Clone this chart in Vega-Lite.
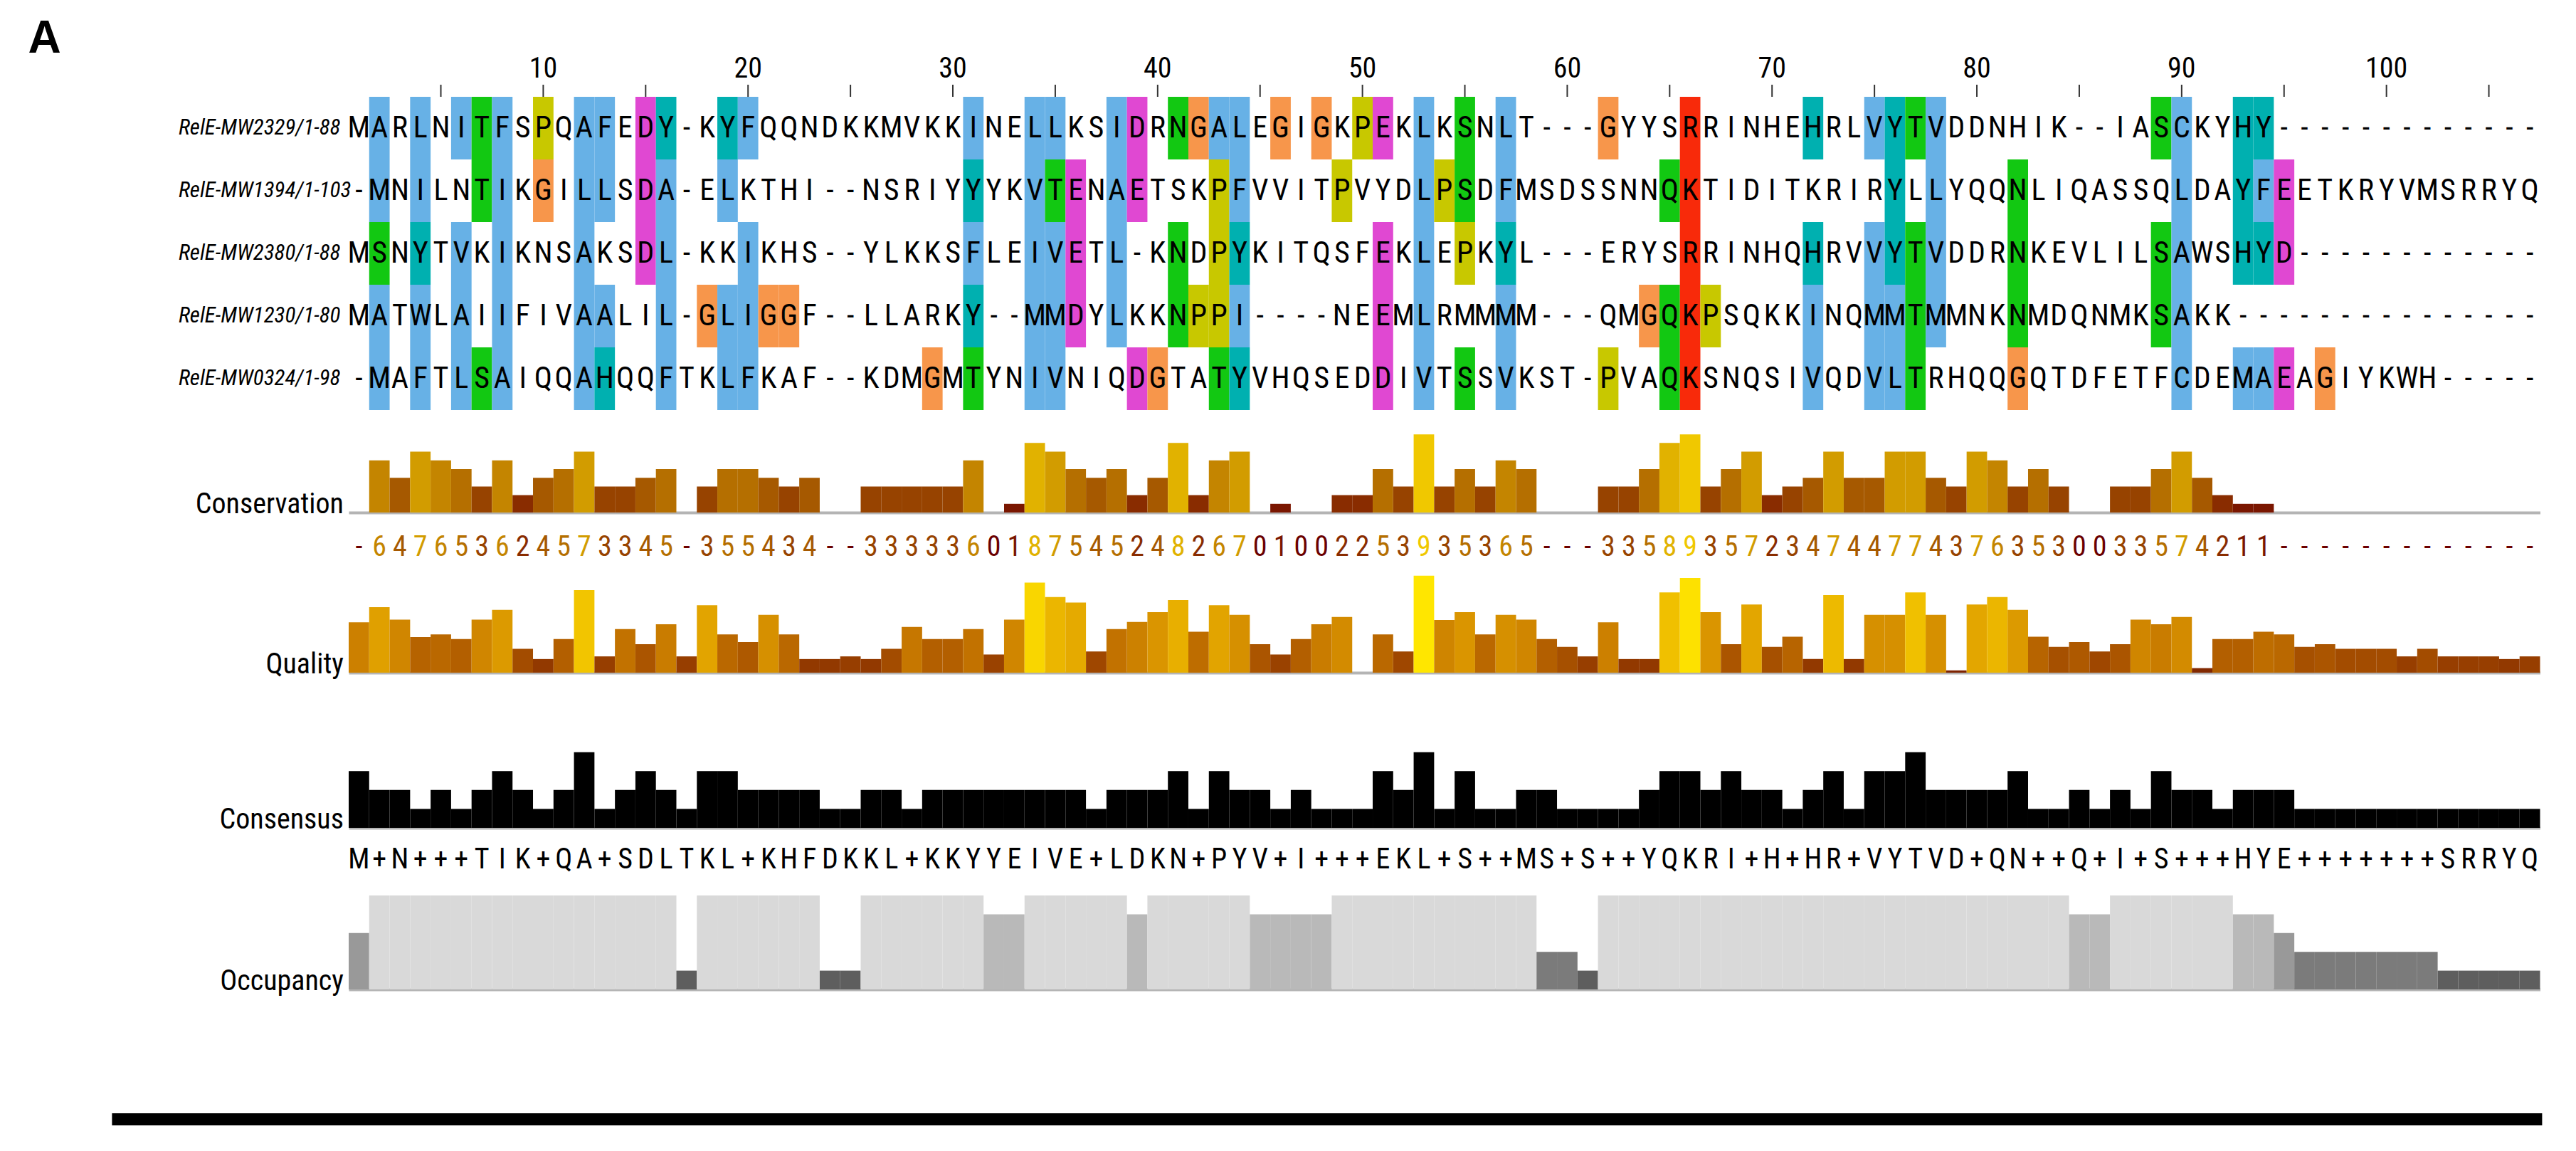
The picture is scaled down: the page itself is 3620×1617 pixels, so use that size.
{
"$schema": "https://vega.github.io/schema/vega-lite/v6.json",
"background": "white",
"padding": {"left": 39, "top": 23, "right": 10, "bottom": 10},
"title": {"text": "A", "anchor": "start", "fontSize": 64, "fontWeight": "bold", "font": "Liberation Sans", "dx": -118, "offset": -75, "baseline": "alphabetic", "color": "black"},
"config": {"view": {"stroke": null}, "axis": {"grid": false}},
"spacing": 166,
"datasets": {
"ruler": [{"col":10},{"col":20},{"col":30},{"col":40},{"col":50},{"col":60},{"col":70},{"col":80},{"col":90},{"col":100}],
"ticks": [{"col":5},{"col":10},{"col":15},{"col":20},{"col":25},{"col":30},{"col":35},{"col":40},{"col":45},{"col":50},{"col":55},{"col":60},{"col":65},{"col":70},{"col":75},{"col":80},{"col":85},{"col":90},{"col":95},{"col":100},{"col":105}],
"columns": [
{"col":1,"conservation":"-","quality":133,"consensus":3,"letter":"M","occupancy":3},
{"col":2,"conservation":"6","score":6,"quality":173,"consensus":2,"letter":"+","occupancy":5},
{"col":3,"conservation":"4","score":4,"quality":140,"consensus":2,"letter":"N","occupancy":5},
{"col":4,"conservation":"7","score":7,"quality":94,"consensus":1,"letter":"+","occupancy":5},
{"col":5,"conservation":"6","score":6,"quality":101,"consensus":2,"letter":"+","occupancy":5},
{"col":6,"conservation":"5","score":5,"quality":89,"consensus":1,"letter":"+","occupancy":5},
{"col":7,"conservation":"3","score":3,"quality":140,"consensus":2,"letter":"T","occupancy":5},
{"col":8,"conservation":"6","score":6,"quality":166,"consensus":3,"letter":"I","occupancy":5},
{"col":9,"conservation":"2","score":2,"quality":63,"consensus":2,"letter":"K","occupancy":5},
{"col":10,"conservation":"4","score":4,"quality":36,"consensus":1,"letter":"+","occupancy":5},
{"col":11,"conservation":"5","score":5,"quality":89,"consensus":2,"letter":"Q","occupancy":5},
{"col":12,"conservation":"7","score":7,"quality":218,"consensus":4,"letter":"A","occupancy":5},
{"col":13,"conservation":"3","score":3,"quality":43,"consensus":1,"letter":"+","occupancy":5},
{"col":14,"conservation":"3","score":3,"quality":115,"consensus":2,"letter":"S","occupancy":5},
{"col":15,"conservation":"4","score":4,"quality":75,"consensus":3,"letter":"D","occupancy":5},
{"col":16,"conservation":"5","score":5,"quality":128,"consensus":2,"letter":"L","occupancy":5},
{"col":17,"conservation":"-","quality":43,"consensus":1,"letter":"T","occupancy":1},
{"col":18,"conservation":"3","score":3,"quality":178,"consensus":3,"letter":"K","occupancy":5},
{"col":19,"conservation":"5","score":5,"quality":101,"consensus":3,"letter":"L","occupancy":5},
{"col":20,"conservation":"5","score":5,"quality":81,"consensus":2,"letter":"+","occupancy":5},
{"col":21,"conservation":"4","score":4,"quality":153,"consensus":2,"letter":"K","occupancy":5},
{"col":22,"conservation":"3","score":3,"quality":101,"consensus":2,"letter":"H","occupancy":5},
{"col":23,"conservation":"4","score":4,"quality":36,"consensus":2,"letter":"F","occupancy":5},
{"col":24,"conservation":"-","quality":36,"consensus":1,"letter":"D","occupancy":1},
{"col":25,"conservation":"-","quality":43,"consensus":1,"letter":"K","occupancy":1},
{"col":26,"conservation":"3","score":3,"quality":36,"consensus":2,"letter":"K","occupancy":5},
{"col":27,"conservation":"3","score":3,"quality":63,"consensus":2,"letter":"L","occupancy":5},
{"col":28,"conservation":"3","score":3,"quality":121,"consensus":1,"letter":"+","occupancy":5},
{"col":29,"conservation":"3","score":3,"quality":89,"consensus":2,"letter":"K","occupancy":5},
{"col":30,"conservation":"3","score":3,"quality":89,"consensus":2,"letter":"K","occupancy":5},
{"col":31,"conservation":"6","score":6,"quality":115,"consensus":2,"letter":"Y","occupancy":5},
{"col":32,"conservation":"0","score":0,"quality":48,"consensus":2,"letter":"Y","occupancy":4},
{"col":33,"conservation":"1","score":1,"quality":140,"consensus":2,"letter":"E","occupancy":4},
{"col":34,"conservation":"8","score":8,"quality":238,"consensus":2,"letter":"I","occupancy":5},
{"col":35,"conservation":"7","score":7,"quality":200,"consensus":2,"letter":"V","occupancy":5},
{"col":36,"conservation":"5","score":5,"quality":185,"consensus":2,"letter":"E","occupancy":5},
{"col":37,"conservation":"4","score":4,"quality":56,"consensus":1,"letter":"+","occupancy":5},
{"col":38,"conservation":"5","score":5,"quality":115,"consensus":2,"letter":"L","occupancy":5},
{"col":39,"conservation":"2","score":2,"quality":134,"consensus":2,"letter":"D","occupancy":4},
{"col":40,"conservation":"4","score":4,"quality":160,"consensus":2,"letter":"K","occupancy":5},
{"col":41,"conservation":"8","score":8,"quality":192,"consensus":3,"letter":"N","occupancy":5},
{"col":42,"conservation":"2","score":2,"quality":108,"consensus":1,"letter":"+","occupancy":5},
{"col":43,"conservation":"6","score":6,"quality":178,"consensus":3,"letter":"P","occupancy":5},
{"col":44,"conservation":"7","score":7,"quality":153,"consensus":2,"letter":"Y","occupancy":5},
{"col":45,"conservation":"0","score":0,"quality":75,"consensus":2,"letter":"V","occupancy":4},
{"col":46,"conservation":"1","score":1,"quality":48,"consensus":1,"letter":"+","occupancy":4},
{"col":47,"conservation":"0","score":0,"quality":89,"consensus":2,"letter":"I","occupancy":4},
{"col":48,"conservation":"0","score":0,"quality":128,"consensus":1,"letter":"+","occupancy":4},
{"col":49,"conservation":"2","score":2,"quality":147,"consensus":1,"letter":"+","occupancy":5},
{"col":50,"conservation":"2","score":2,"quality":0,"consensus":1,"letter":"+","occupancy":5},
{"col":51,"conservation":"5","score":5,"quality":101,"consensus":3,"letter":"E","occupancy":5},
{"col":52,"conservation":"3","score":3,"quality":56,"consensus":2,"letter":"K","occupancy":5},
{"col":53,"conservation":"9","score":9,"quality":256,"consensus":4,"letter":"L","occupancy":5},
{"col":54,"conservation":"3","score":3,"quality":139,"consensus":1,"letter":"+","occupancy":5},
{"col":55,"conservation":"5","score":5,"quality":160,"consensus":3,"letter":"S","occupancy":5},
{"col":56,"conservation":"3","score":3,"quality":101,"consensus":1,"letter":"+","occupancy":5},
{"col":57,"conservation":"6","score":6,"quality":153,"consensus":1,"letter":"+","occupancy":5},
{"col":58,"conservation":"5","score":5,"quality":140,"consensus":2,"letter":"M","occupancy":5},
{"col":59,"conservation":"-","quality":89,"consensus":2,"letter":"S","occupancy":2},
{"col":60,"conservation":"-","quality":68,"consensus":1,"letter":"+","occupancy":2},
{"col":61,"conservation":"-","quality":43,"consensus":1,"letter":"S","occupancy":1},
{"col":62,"conservation":"3","score":3,"quality":133,"consensus":1,"letter":"+","occupancy":5},
{"col":63,"conservation":"3","score":3,"quality":36,"consensus":1,"letter":"+","occupancy":5},
{"col":64,"conservation":"5","score":5,"quality":36,"consensus":2,"letter":"Y","occupancy":5},
{"col":65,"conservation":"8","score":8,"quality":212,"consensus":3,"letter":"Q","occupancy":5},
{"col":66,"conservation":"9","score":9,"quality":250,"consensus":3,"letter":"K","occupancy":5},
{"col":67,"conservation":"3","score":3,"quality":160,"consensus":2,"letter":"R","occupancy":5},
{"col":68,"conservation":"5","score":5,"quality":75,"consensus":3,"letter":"I","occupancy":5},
{"col":69,"conservation":"7","score":7,"quality":180,"consensus":2,"letter":"+","occupancy":5},
{"col":70,"conservation":"2","score":2,"quality":68,"consensus":2,"letter":"H","occupancy":5},
{"col":71,"conservation":"3","score":3,"quality":95,"consensus":1,"letter":"+","occupancy":5},
{"col":72,"conservation":"4","score":4,"quality":36,"consensus":2,"letter":"H","occupancy":5},
{"col":73,"conservation":"7","score":7,"quality":205,"consensus":3,"letter":"R","occupancy":5},
{"col":74,"conservation":"4","score":4,"quality":36,"consensus":1,"letter":"+","occupancy":5},
{"col":75,"conservation":"4","score":4,"quality":153,"consensus":3,"letter":"V","occupancy":5},
{"col":76,"conservation":"7","score":7,"quality":153,"consensus":3,"letter":"Y","occupancy":5},
{"col":77,"conservation":"7","score":7,"quality":212,"consensus":4,"letter":"T","occupancy":5},
{"col":78,"conservation":"4","score":4,"quality":153,"consensus":2,"letter":"V","occupancy":5},
{"col":79,"conservation":"3","score":3,"quality":6,"consensus":2,"letter":"D","occupancy":5},
{"col":80,"conservation":"7","score":7,"quality":180,"consensus":2,"letter":"+","occupancy":5},
{"col":81,"conservation":"6","score":6,"quality":200,"consensus":2,"letter":"Q","occupancy":5},
{"col":82,"conservation":"3","score":3,"quality":166,"consensus":3,"letter":"N","occupancy":5},
{"col":83,"conservation":"5","score":5,"quality":95,"consensus":1,"letter":"+","occupancy":5},
{"col":84,"conservation":"3","score":3,"quality":68,"consensus":1,"letter":"+","occupancy":5},
{"col":85,"conservation":"0","score":0,"quality":81,"consensus":2,"letter":"Q","occupancy":4},
{"col":86,"conservation":"0","score":0,"quality":56,"consensus":1,"letter":"+","occupancy":4},
{"col":87,"conservation":"3","score":3,"quality":75,"consensus":2,"letter":"I","occupancy":5},
{"col":88,"conservation":"3","score":3,"quality":140,"consensus":1,"letter":"+","occupancy":5},
{"col":89,"conservation":"5","score":5,"quality":128,"consensus":3,"letter":"S","occupancy":5},
{"col":90,"conservation":"7","score":7,"quality":147,"consensus":2,"letter":"+","occupancy":5},
{"col":91,"conservation":"4","score":4,"quality":12,"consensus":2,"letter":"+","occupancy":5},
{"col":92,"conservation":"2","score":2,"quality":89,"consensus":1,"letter":"+","occupancy":5},
{"col":93,"conservation":"1","score":1,"quality":89,"consensus":2,"letter":"H","occupancy":4},
{"col":94,"conservation":"1","score":1,"quality":108,"consensus":2,"letter":"Y","occupancy":4},
{"col":95,"conservation":"-","quality":101,"consensus":2,"letter":"E","occupancy":3},
{"col":96,"conservation":"-","quality":68,"consensus":1,"letter":"+","occupancy":2},
{"col":97,"conservation":"-","quality":75,"consensus":1,"letter":"+","occupancy":2},
{"col":98,"conservation":"-","quality":63,"consensus":1,"letter":"+","occupancy":2},
{"col":99,"conservation":"-","quality":63,"consensus":1,"letter":"+","occupancy":2},
{"col":100,"conservation":"-","quality":63,"consensus":1,"letter":"+","occupancy":2},
{"col":101,"conservation":"-","quality":43,"consensus":1,"letter":"+","occupancy":2},
{"col":102,"conservation":"-","quality":63,"consensus":1,"letter":"+","occupancy":2},
{"col":103,"conservation":"-","quality":43,"consensus":1,"letter":"S","occupancy":1},
{"col":104,"conservation":"-","quality":43,"consensus":1,"letter":"R","occupancy":1},
{"col":105,"conservation":"-","quality":43,"consensus":1,"letter":"R","occupancy":1},
{"col":106,"conservation":"-","quality":36,"consensus":1,"letter":"Y","occupancy":1},
{"col":107,"conservation":"-","quality":43,"consensus":1,"letter":"Q","occupancy":1}
],
"alignment": [
{"seq":"RelE-MW2329/1-88","col":1,"res":"M"},
{"seq":"RelE-MW2329/1-88","col":2,"res":"A","grp":"hydrophobic"},
{"seq":"RelE-MW2329/1-88","col":3,"res":"R"},
{"seq":"RelE-MW2329/1-88","col":4,"res":"L","grp":"hydrophobic"},
{"seq":"RelE-MW2329/1-88","col":5,"res":"N"},
{"seq":"RelE-MW2329/1-88","col":6,"res":"I","grp":"hydrophobic"},
{"seq":"RelE-MW2329/1-88","col":7,"res":"T","grp":"polar"},
{"seq":"RelE-MW2329/1-88","col":8,"res":"F","grp":"hydrophobic"},
{"seq":"RelE-MW2329/1-88","col":9,"res":"S"},
{"seq":"RelE-MW2329/1-88","col":10,"res":"P","grp":"proline"},
{"seq":"RelE-MW2329/1-88","col":11,"res":"Q"},
{"seq":"RelE-MW2329/1-88","col":12,"res":"A","grp":"hydrophobic"},
{"seq":"RelE-MW2329/1-88","col":13,"res":"F","grp":"hydrophobic"},
{"seq":"RelE-MW2329/1-88","col":14,"res":"E"},
{"seq":"RelE-MW2329/1-88","col":15,"res":"D","grp":"acidic"},
{"seq":"RelE-MW2329/1-88","col":16,"res":"Y","grp":"aromatic"},
{"seq":"RelE-MW2329/1-88","col":17,"res":"-"},
{"seq":"RelE-MW2329/1-88","col":18,"res":"K"},
{"seq":"RelE-MW2329/1-88","col":19,"res":"Y","grp":"aromatic"},
{"seq":"RelE-MW2329/1-88","col":20,"res":"F","grp":"hydrophobic"},
{"seq":"RelE-MW2329/1-88","col":21,"res":"Q"},
{"seq":"RelE-MW2329/1-88","col":22,"res":"Q"},
{"seq":"RelE-MW2329/1-88","col":23,"res":"N"},
{"seq":"RelE-MW2329/1-88","col":24,"res":"D"},
{"seq":"RelE-MW2329/1-88","col":25,"res":"K"},
{"seq":"RelE-MW2329/1-88","col":26,"res":"K"},
{"seq":"RelE-MW2329/1-88","col":27,"res":"M"},
{"seq":"RelE-MW2329/1-88","col":28,"res":"V"},
{"seq":"RelE-MW2329/1-88","col":29,"res":"K"},
{"seq":"RelE-MW2329/1-88","col":30,"res":"K"},
{"seq":"RelE-MW2329/1-88","col":31,"res":"I","grp":"hydrophobic"},
{"seq":"RelE-MW2329/1-88","col":32,"res":"N"},
{"seq":"RelE-MW2329/1-88","col":33,"res":"E"},
{"seq":"RelE-MW2329/1-88","col":34,"res":"L","grp":"hydrophobic"},
{"seq":"RelE-MW2329/1-88","col":35,"res":"L","grp":"hydrophobic"},
{"seq":"RelE-MW2329/1-88","col":36,"res":"K"},
{"seq":"RelE-MW2329/1-88","col":37,"res":"S"},
{"seq":"RelE-MW2329/1-88","col":38,"res":"I","grp":"hydrophobic"},
{"seq":"RelE-MW2329/1-88","col":39,"res":"D","grp":"acidic"},
{"seq":"RelE-MW2329/1-88","col":40,"res":"R"},
{"seq":"RelE-MW2329/1-88","col":41,"res":"N","grp":"polar"},
{"seq":"RelE-MW2329/1-88","col":42,"res":"G","grp":"glycine"},
{"seq":"RelE-MW2329/1-88","col":43,"res":"A","grp":"hydrophobic"},
{"seq":"RelE-MW2329/1-88","col":44,"res":"L","grp":"hydrophobic"},
{"seq":"RelE-MW2329/1-88","col":45,"res":"E"},
{"seq":"RelE-MW2329/1-88","col":46,"res":"G","grp":"glycine"},
{"seq":"RelE-MW2329/1-88","col":47,"res":"I"},
{"seq":"RelE-MW2329/1-88","col":48,"res":"G","grp":"glycine"},
{"seq":"RelE-MW2329/1-88","col":49,"res":"K"},
{"seq":"RelE-MW2329/1-88","col":50,"res":"P","grp":"proline"},
{"seq":"RelE-MW2329/1-88","col":51,"res":"E","grp":"acidic"},
{"seq":"RelE-MW2329/1-88","col":52,"res":"K"},
{"seq":"RelE-MW2329/1-88","col":53,"res":"L","grp":"hydrophobic"},
{"seq":"RelE-MW2329/1-88","col":54,"res":"K"},
{"seq":"RelE-MW2329/1-88","col":55,"res":"S","grp":"polar"},
{"seq":"RelE-MW2329/1-88","col":56,"res":"N"},
{"seq":"RelE-MW2329/1-88","col":57,"res":"L","grp":"hydrophobic"},
{"seq":"RelE-MW2329/1-88","col":58,"res":"T"},
{"seq":"RelE-MW2329/1-88","col":59,"res":"-"},
{"seq":"RelE-MW2329/1-88","col":60,"res":"-"},
{"seq":"RelE-MW2329/1-88","col":61,"res":"-"},
{"seq":"RelE-MW2329/1-88","col":62,"res":"G","grp":"glycine"},
{"seq":"RelE-MW2329/1-88","col":63,"res":"Y"},
{"seq":"RelE-MW2329/1-88","col":64,"res":"Y"},
{"seq":"RelE-MW2329/1-88","col":65,"res":"S"},
{"seq":"RelE-MW2329/1-88","col":66,"res":"R","grp":"basic"},
{"seq":"RelE-MW2329/1-88","col":67,"res":"R"},
{"seq":"RelE-MW2329/1-88","col":68,"res":"I"},
{"seq":"RelE-MW2329/1-88","col":69,"res":"N"},
{"seq":"RelE-MW2329/1-88","col":70,"res":"H"},
{"seq":"RelE-MW2329/1-88","col":71,"res":"E"},
{"seq":"RelE-MW2329/1-88","col":72,"res":"H","grp":"aromatic"},
{"seq":"RelE-MW2329/1-88","col":73,"res":"R"},
{"seq":"RelE-MW2329/1-88","col":74,"res":"L"},
{"seq":"RelE-MW2329/1-88","col":75,"res":"V","grp":"hydrophobic"},
{"seq":"RelE-MW2329/1-88","col":76,"res":"Y","grp":"aromatic"},
{"seq":"RelE-MW2329/1-88","col":77,"res":"T","grp":"polar"},
{"seq":"RelE-MW2329/1-88","col":78,"res":"V","grp":"hydrophobic"},
{"seq":"RelE-MW2329/1-88","col":79,"res":"D"},
{"seq":"RelE-MW2329/1-88","col":80,"res":"D"},
{"seq":"RelE-MW2329/1-88","col":81,"res":"N"},
{"seq":"RelE-MW2329/1-88","col":82,"res":"H"},
{"seq":"RelE-MW2329/1-88","col":83,"res":"I"},
{"seq":"RelE-MW2329/1-88","col":84,"res":"K"},
{"seq":"RelE-MW2329/1-88","col":85,"res":"-"},
{"seq":"RelE-MW2329/1-88","col":86,"res":"-"},
{"seq":"RelE-MW2329/1-88","col":87,"res":"I"},
{"seq":"RelE-MW2329/1-88","col":88,"res":"A"},
{"seq":"RelE-MW2329/1-88","col":89,"res":"S","grp":"polar"},
{"seq":"RelE-MW2329/1-88","col":90,"res":"C","grp":"hydrophobic"},
{"seq":"RelE-MW2329/1-88","col":91,"res":"K"},
{"seq":"RelE-MW2329/1-88","col":92,"res":"Y"},
{"seq":"RelE-MW2329/1-88","col":93,"res":"H","grp":"aromatic"},
{"seq":"RelE-MW2329/1-88","col":94,"res":"Y","grp":"aromatic"},
{"seq":"RelE-MW2329/1-88","col":95,"res":"-"},
{"seq":"RelE-MW2329/1-88","col":96,"res":"-"},
{"seq":"RelE-MW2329/1-88","col":97,"res":"-"},
{"seq":"RelE-MW2329/1-88","col":98,"res":"-"},
{"seq":"RelE-MW2329/1-88","col":99,"res":"-"},
{"seq":"RelE-MW2329/1-88","col":100,"res":"-"},
{"seq":"RelE-MW2329/1-88","col":101,"res":"-"},
{"seq":"RelE-MW2329/1-88","col":102,"res":"-"},
{"seq":"RelE-MW2329/1-88","col":103,"res":"-"},
{"seq":"RelE-MW2329/1-88","col":104,"res":"-"},
{"seq":"RelE-MW2329/1-88","col":105,"res":"-"},
{"seq":"RelE-MW2329/1-88","col":106,"res":"-"},
{"seq":"RelE-MW2329/1-88","col":107,"res":"-"},
{"seq":"RelE-MW1394/1-103","col":1,"res":"-"},
{"seq":"RelE-MW1394/1-103","col":2,"res":"M","grp":"hydrophobic"},
{"seq":"RelE-MW1394/1-103","col":3,"res":"N"},
{"seq":"RelE-MW1394/1-103","col":4,"res":"I","grp":"hydrophobic"},
{"seq":"RelE-MW1394/1-103","col":5,"res":"L"},
{"seq":"RelE-MW1394/1-103","col":6,"res":"N"},
{"seq":"RelE-MW1394/1-103","col":7,"res":"T","grp":"polar"},
{"seq":"RelE-MW1394/1-103","col":8,"res":"I","grp":"hydrophobic"},
{"seq":"RelE-MW1394/1-103","col":9,"res":"K"},
{"seq":"RelE-MW1394/1-103","col":10,"res":"G","grp":"glycine"},
{"seq":"RelE-MW1394/1-103","col":11,"res":"I"},
{"seq":"RelE-MW1394/1-103","col":12,"res":"L","grp":"hydrophobic"},
{"seq":"RelE-MW1394/1-103","col":13,"res":"L","grp":"hydrophobic"},
{"seq":"RelE-MW1394/1-103","col":14,"res":"S"},
{"seq":"RelE-MW1394/1-103","col":15,"res":"D","grp":"acidic"},
{"seq":"RelE-MW1394/1-103","col":16,"res":"A","grp":"hydrophobic"},
{"seq":"RelE-MW1394/1-103","col":17,"res":"-"},
{"seq":"RelE-MW1394/1-103","col":18,"res":"E"},
{"seq":"RelE-MW1394/1-103","col":19,"res":"L","grp":"hydrophobic"},
{"seq":"RelE-MW1394/1-103","col":20,"res":"K"},
{"seq":"RelE-MW1394/1-103","col":21,"res":"T"},
{"seq":"RelE-MW1394/1-103","col":22,"res":"H"},
{"seq":"RelE-MW1394/1-103","col":23,"res":"I"},
{"seq":"RelE-MW1394/1-103","col":24,"res":"-"},
{"seq":"RelE-MW1394/1-103","col":25,"res":"-"},
{"seq":"RelE-MW1394/1-103","col":26,"res":"N"},
{"seq":"RelE-MW1394/1-103","col":27,"res":"S"},
{"seq":"RelE-MW1394/1-103","col":28,"res":"R"},
{"seq":"RelE-MW1394/1-103","col":29,"res":"I"},
{"seq":"RelE-MW1394/1-103","col":30,"res":"Y"},
{"seq":"RelE-MW1394/1-103","col":31,"res":"Y","grp":"aromatic"},
{"seq":"RelE-MW1394/1-103","col":32,"res":"Y"},
{"seq":"RelE-MW1394/1-103","col":33,"res":"K"},
{"seq":"RelE-MW1394/1-103","col":34,"res":"V","grp":"hydrophobic"},
{"seq":"RelE-MW1394/1-103","col":35,"res":"T","grp":"polar"},
{"seq":"RelE-MW1394/1-103","col":36,"res":"E","grp":"acidic"},
{"seq":"RelE-MW1394/1-103","col":37,"res":"N"},
{"seq":"RelE-MW1394/1-103","col":38,"res":"A","grp":"hydrophobic"},
{"seq":"RelE-MW1394/1-103","col":39,"res":"E","grp":"acidic"},
{"seq":"RelE-MW1394/1-103","col":40,"res":"T"},
{"seq":"RelE-MW1394/1-103","col":41,"res":"S"},
{"seq":"RelE-MW1394/1-103","col":42,"res":"K"},
{"seq":"RelE-MW1394/1-103","col":43,"res":"P","grp":"proline"},
{"seq":"RelE-MW1394/1-103","col":44,"res":"F","grp":"hydrophobic"},
{"seq":"RelE-MW1394/1-103","col":45,"res":"V"},
{"seq":"RelE-MW1394/1-103","col":46,"res":"V"},
{"seq":"RelE-MW1394/1-103","col":47,"res":"I"},
{"seq":"RelE-MW1394/1-103","col":48,"res":"T"},
{"seq":"RelE-MW1394/1-103","col":49,"res":"P","grp":"proline"},
{"seq":"RelE-MW1394/1-103","col":50,"res":"V"},
{"seq":"RelE-MW1394/1-103","col":51,"res":"Y"},
{"seq":"RelE-MW1394/1-103","col":52,"res":"D"},
{"seq":"RelE-MW1394/1-103","col":53,"res":"L","grp":"hydrophobic"},
{"seq":"RelE-MW1394/1-103","col":54,"res":"P","grp":"proline"},
{"seq":"RelE-MW1394/1-103","col":55,"res":"S","grp":"polar"},
{"seq":"RelE-MW1394/1-103","col":56,"res":"D"},
{"seq":"RelE-MW1394/1-103","col":57,"res":"F","grp":"hydrophobic"},
{"seq":"RelE-MW1394/1-103","col":58,"res":"M"},
{"seq":"RelE-MW1394/1-103","col":59,"res":"S"},
{"seq":"RelE-MW1394/1-103","col":60,"res":"D"},
{"seq":"RelE-MW1394/1-103","col":61,"res":"S"},
{"seq":"RelE-MW1394/1-103","col":62,"res":"S"},
{"seq":"RelE-MW1394/1-103","col":63,"res":"N"},
{"seq":"RelE-MW1394/1-103","col":64,"res":"N"},
{"seq":"RelE-MW1394/1-103","col":65,"res":"Q","grp":"polar"},
{"seq":"RelE-MW1394/1-103","col":66,"res":"K","grp":"basic"},
{"seq":"RelE-MW1394/1-103","col":67,"res":"T"},
{"seq":"RelE-MW1394/1-103","col":68,"res":"I"},
{"seq":"RelE-MW1394/1-103","col":69,"res":"D"},
{"seq":"RelE-MW1394/1-103","col":70,"res":"I"},
{"seq":"RelE-MW1394/1-103","col":71,"res":"T"},
{"seq":"RelE-MW1394/1-103","col":72,"res":"K"},
{"seq":"RelE-MW1394/1-103","col":73,"res":"R"},
{"seq":"RelE-MW1394/1-103","col":74,"res":"I"},
{"seq":"RelE-MW1394/1-103","col":75,"res":"R"},
{"seq":"RelE-MW1394/1-103","col":76,"res":"Y","grp":"aromatic"},
{"seq":"RelE-MW1394/1-103","col":77,"res":"L"},
{"seq":"RelE-MW1394/1-103","col":78,"res":"L","grp":"hydrophobic"},
{"seq":"RelE-MW1394/1-103","col":79,"res":"Y"},
{"seq":"RelE-MW1394/1-103","col":80,"res":"Q"},
{"seq":"RelE-MW1394/1-103","col":81,"res":"Q"},
{"seq":"RelE-MW1394/1-103","col":82,"res":"N","grp":"polar"},
{"seq":"RelE-MW1394/1-103","col":83,"res":"L"},
{"seq":"RelE-MW1394/1-103","col":84,"res":"I"},
{"seq":"RelE-MW1394/1-103","col":85,"res":"Q"},
{"seq":"RelE-MW1394/1-103","col":86,"res":"A"},
{"seq":"RelE-MW1394/1-103","col":87,"res":"S"},
{"seq":"RelE-MW1394/1-103","col":88,"res":"S"},
{"seq":"RelE-MW1394/1-103","col":89,"res":"Q"},
{"seq":"RelE-MW1394/1-103","col":90,"res":"L","grp":"hydrophobic"},
{"seq":"RelE-MW1394/1-103","col":91,"res":"D"},
{"seq":"RelE-MW1394/1-103","col":92,"res":"A"},
{"seq":"RelE-MW1394/1-103","col":93,"res":"Y","grp":"aromatic"},
{"seq":"RelE-MW1394/1-103","col":94,"res":"F","grp":"hydrophobic"},
{"seq":"RelE-MW1394/1-103","col":95,"res":"E","grp":"acidic"},
{"seq":"RelE-MW1394/1-103","col":96,"res":"E"},
{"seq":"RelE-MW1394/1-103","col":97,"res":"T"},
{"seq":"RelE-MW1394/1-103","col":98,"res":"K"},
{"seq":"RelE-MW1394/1-103","col":99,"res":"R"},
{"seq":"RelE-MW1394/1-103","col":100,"res":"Y"},
{"seq":"RelE-MW1394/1-103","col":101,"res":"V"},
{"seq":"RelE-MW1394/1-103","col":102,"res":"M"},
{"seq":"RelE-MW1394/1-103","col":103,"res":"S"},
{"seq":"RelE-MW1394/1-103","col":104,"res":"R"},
{"seq":"RelE-MW1394/1-103","col":105,"res":"R"},
{"seq":"RelE-MW1394/1-103","col":106,"res":"Y"},
{"seq":"RelE-MW1394/1-103","col":107,"res":"Q"},
{"seq":"RelE-MW2380/1-88","col":1,"res":"M"},
{"seq":"RelE-MW2380/1-88","col":2,"res":"S","grp":"polar"},
{"seq":"RelE-MW2380/1-88","col":3,"res":"N"},
{"seq":"RelE-MW2380/1-88","col":4,"res":"Y","grp":"aromatic"},
{"seq":"RelE-MW2380/1-88","col":5,"res":"T"},
{"seq":"RelE-MW2380/1-88","col":6,"res":"V","grp":"hydrophobic"},
{"seq":"RelE-MW2380/1-88","col":7,"res":"K"},
{"seq":"RelE-MW2380/1-88","col":8,"res":"I","grp":"hydrophobic"},
{"seq":"RelE-MW2380/1-88","col":9,"res":"K"},
{"seq":"RelE-MW2380/1-88","col":10,"res":"N"},
{"seq":"RelE-MW2380/1-88","col":11,"res":"S"},
{"seq":"RelE-MW2380/1-88","col":12,"res":"A","grp":"hydrophobic"},
{"seq":"RelE-MW2380/1-88","col":13,"res":"K"},
{"seq":"RelE-MW2380/1-88","col":14,"res":"S"},
{"seq":"RelE-MW2380/1-88","col":15,"res":"D","grp":"acidic"},
{"seq":"RelE-MW2380/1-88","col":16,"res":"L","grp":"hydrophobic"},
{"seq":"RelE-MW2380/1-88","col":17,"res":"-"},
{"seq":"RelE-MW2380/1-88","col":18,"res":"K"},
{"seq":"RelE-MW2380/1-88","col":19,"res":"K"},
{"seq":"RelE-MW2380/1-88","col":20,"res":"I","grp":"hydrophobic"},
{"seq":"RelE-MW2380/1-88","col":21,"res":"K"},
{"seq":"RelE-MW2380/1-88","col":22,"res":"H"},
{"seq":"RelE-MW2380/1-88","col":23,"res":"S"},
{"seq":"RelE-MW2380/1-88","col":24,"res":"-"},
{"seq":"RelE-MW2380/1-88","col":25,"res":"-"},
{"seq":"RelE-MW2380/1-88","col":26,"res":"Y"},
{"seq":"RelE-MW2380/1-88","col":27,"res":"L"},
{"seq":"RelE-MW2380/1-88","col":28,"res":"K"},
{"seq":"RelE-MW2380/1-88","col":29,"res":"K"},
{"seq":"RelE-MW2380/1-88","col":30,"res":"S"},
{"seq":"RelE-MW2380/1-88","col":31,"res":"F","grp":"hydrophobic"},
{"seq":"RelE-MW2380/1-88","col":32,"res":"L"},
{"seq":"RelE-MW2380/1-88","col":33,"res":"E"},
{"seq":"RelE-MW2380/1-88","col":34,"res":"I","grp":"hydrophobic"},
{"seq":"RelE-MW2380/1-88","col":35,"res":"V","grp":"hydrophobic"},
{"seq":"RelE-MW2380/1-88","col":36,"res":"E","grp":"acidic"},
{"seq":"RelE-MW2380/1-88","col":37,"res":"T"},
{"seq":"RelE-MW2380/1-88","col":38,"res":"L","grp":"hydrophobic"},
{"seq":"RelE-MW2380/1-88","col":39,"res":"-"},
{"seq":"RelE-MW2380/1-88","col":40,"res":"K"},
{"seq":"RelE-MW2380/1-88","col":41,"res":"N","grp":"polar"},
{"seq":"RelE-MW2380/1-88","col":42,"res":"D"},
{"seq":"RelE-MW2380/1-88","col":43,"res":"P","grp":"proline"},
{"seq":"RelE-MW2380/1-88","col":44,"res":"Y","grp":"aromatic"},
{"seq":"RelE-MW2380/1-88","col":45,"res":"K"},
{"seq":"RelE-MW2380/1-88","col":46,"res":"I"},
{"seq":"RelE-MW2380/1-88","col":47,"res":"T"},
{"seq":"RelE-MW2380/1-88","col":48,"res":"Q"},
{"seq":"RelE-MW2380/1-88","col":49,"res":"S"},
{"seq":"RelE-MW2380/1-88","col":50,"res":"F"},
{"seq":"RelE-MW2380/1-88","col":51,"res":"E","grp":"acidic"},
{"seq":"RelE-MW2380/1-88","col":52,"res":"K"},
{"seq":"RelE-MW2380/1-88","col":53,"res":"L","grp":"hydrophobic"},
{"seq":"RelE-MW2380/1-88","col":54,"res":"E"},
{"seq":"RelE-MW2380/1-88","col":55,"res":"P","grp":"proline"},
{"seq":"RelE-MW2380/1-88","col":56,"res":"K"},
{"seq":"RelE-MW2380/1-88","col":57,"res":"Y","grp":"aromatic"},
{"seq":"RelE-MW2380/1-88","col":58,"res":"L"},
{"seq":"RelE-MW2380/1-88","col":59,"res":"-"},
{"seq":"RelE-MW2380/1-88","col":60,"res":"-"},
{"seq":"RelE-MW2380/1-88","col":61,"res":"-"},
{"seq":"RelE-MW2380/1-88","col":62,"res":"E"},
{"seq":"RelE-MW2380/1-88","col":63,"res":"R"},
{"seq":"RelE-MW2380/1-88","col":64,"res":"Y"},
{"seq":"RelE-MW2380/1-88","col":65,"res":"S"},
{"seq":"RelE-MW2380/1-88","col":66,"res":"R","grp":"basic"},
{"seq":"RelE-MW2380/1-88","col":67,"res":"R"},
{"seq":"RelE-MW2380/1-88","col":68,"res":"I"},
{"seq":"RelE-MW2380/1-88","col":69,"res":"N"},
{"seq":"RelE-MW2380/1-88","col":70,"res":"H"},
{"seq":"RelE-MW2380/1-88","col":71,"res":"Q"},
{"seq":"RelE-MW2380/1-88","col":72,"res":"H","grp":"aromatic"},
{"seq":"RelE-MW2380/1-88","col":73,"res":"R"},
{"seq":"RelE-MW2380/1-88","col":74,"res":"V"},
{"seq":"RelE-MW2380/1-88","col":75,"res":"V","grp":"hydrophobic"},
{"seq":"RelE-MW2380/1-88","col":76,"res":"Y","grp":"aromatic"},
{"seq":"RelE-MW2380/1-88","col":77,"res":"T","grp":"polar"},
{"seq":"RelE-MW2380/1-88","col":78,"res":"V","grp":"hydrophobic"},
{"seq":"RelE-MW2380/1-88","col":79,"res":"D"},
{"seq":"RelE-MW2380/1-88","col":80,"res":"D"},
{"seq":"RelE-MW2380/1-88","col":81,"res":"R"},
{"seq":"RelE-MW2380/1-88","col":82,"res":"N","grp":"polar"},
{"seq":"RelE-MW2380/1-88","col":83,"res":"K"},
{"seq":"RelE-MW2380/1-88","col":84,"res":"E"},
{"seq":"RelE-MW2380/1-88","col":85,"res":"V"},
{"seq":"RelE-MW2380/1-88","col":86,"res":"L"},
{"seq":"RelE-MW2380/1-88","col":87,"res":"I"},
{"seq":"RelE-MW2380/1-88","col":88,"res":"L"},
{"seq":"RelE-MW2380/1-88","col":89,"res":"S","grp":"polar"},
{"seq":"RelE-MW2380/1-88","col":90,"res":"A","grp":"hydrophobic"},
{"seq":"RelE-MW2380/1-88","col":91,"res":"W"},
{"seq":"RelE-MW2380/1-88","col":92,"res":"S"},
{"seq":"RelE-MW2380/1-88","col":93,"res":"H","grp":"aromatic"},
{"seq":"RelE-MW2380/1-88","col":94,"res":"Y","grp":"aromatic"},
{"seq":"RelE-MW2380/1-88","col":95,"res":"D","grp":"acidic"},
{"seq":"RelE-MW2380/1-88","col":96,"res":"-"},
{"seq":"RelE-MW2380/1-88","col":97,"res":"-"},
{"seq":"RelE-MW2380/1-88","col":98,"res":"-"},
{"seq":"RelE-MW2380/1-88","col":99,"res":"-"},
{"seq":"RelE-MW2380/1-88","col":100,"res":"-"},
{"seq":"RelE-MW2380/1-88","col":101,"res":"-"},
{"seq":"RelE-MW2380/1-88","col":102,"res":"-"},
{"seq":"RelE-MW2380/1-88","col":103,"res":"-"},
{"seq":"RelE-MW2380/1-88","col":104,"res":"-"},
{"seq":"RelE-MW2380/1-88","col":105,"res":"-"},
{"seq":"RelE-MW2380/1-88","col":106,"res":"-"},
{"seq":"RelE-MW2380/1-88","col":107,"res":"-"},
{"seq":"RelE-MW1230/1-80","col":1,"res":"M"},
{"seq":"RelE-MW1230/1-80","col":2,"res":"A","grp":"hydrophobic"},
{"seq":"RelE-MW1230/1-80","col":3,"res":"T"},
{"seq":"RelE-MW1230/1-80","col":4,"res":"W","grp":"hydrophobic"},
{"seq":"RelE-MW1230/1-80","col":5,"res":"L"},
{"seq":"RelE-MW1230/1-80","col":6,"res":"A","grp":"hydrophobic"},
{"seq":"RelE-MW1230/1-80","col":7,"res":"I"},
{"seq":"RelE-MW1230/1-80","col":8,"res":"I","grp":"hydrophobic"},
{"seq":"RelE-MW1230/1-80","col":9,"res":"F"},
{"seq":"RelE-MW1230/1-80","col":10,"res":"I"},
{"seq":"RelE-MW1230/1-80","col":11,"res":"V"},
{"seq":"RelE-MW1230/1-80","col":12,"res":"A","grp":"hydrophobic"},
{"seq":"RelE-MW1230/1-80","col":13,"res":"A","grp":"hydrophobic"},
{"seq":"RelE-MW1230/1-80","col":14,"res":"L"},
{"seq":"RelE-MW1230/1-80","col":15,"res":"I"},
{"seq":"RelE-MW1230/1-80","col":16,"res":"L","grp":"hydrophobic"},
{"seq":"RelE-MW1230/1-80","col":17,"res":"-"},
{"seq":"RelE-MW1230/1-80","col":18,"res":"G","grp":"glycine"},
{"seq":"RelE-MW1230/1-80","col":19,"res":"L","grp":"hydrophobic"},
{"seq":"RelE-MW1230/1-80","col":20,"res":"I","grp":"hydrophobic"},
{"seq":"RelE-MW1230/1-80","col":21,"res":"G","grp":"glycine"},
{"seq":"RelE-MW1230/1-80","col":22,"res":"G","grp":"glycine"},
{"seq":"RelE-MW1230/1-80","col":23,"res":"F"},
{"seq":"RelE-MW1230/1-80","col":24,"res":"-"},
{"seq":"RelE-MW1230/1-80","col":25,"res":"-"},
{"seq":"RelE-MW1230/1-80","col":26,"res":"L"},
{"seq":"RelE-MW1230/1-80","col":27,"res":"L"},
{"seq":"RelE-MW1230/1-80","col":28,"res":"A"},
{"seq":"RelE-MW1230/1-80","col":29,"res":"R"},
{"seq":"RelE-MW1230/1-80","col":30,"res":"K"},
{"seq":"RelE-MW1230/1-80","col":31,"res":"Y","grp":"aromatic"},
{"seq":"RelE-MW1230/1-80","col":32,"res":"-"},
{"seq":"RelE-MW1230/1-80","col":33,"res":"-"},
{"seq":"RelE-MW1230/1-80","col":34,"res":"M","grp":"hydrophobic"},
{"seq":"RelE-MW1230/1-80","col":35,"res":"M","grp":"hydrophobic"},
{"seq":"RelE-MW1230/1-80","col":36,"res":"D","grp":"acidic"},
{"seq":"RelE-MW1230/1-80","col":37,"res":"Y"},
{"seq":"RelE-MW1230/1-80","col":38,"res":"L","grp":"hydrophobic"},
{"seq":"RelE-MW1230/1-80","col":39,"res":"K"},
{"seq":"RelE-MW1230/1-80","col":40,"res":"K"},
{"seq":"RelE-MW1230/1-80","col":41,"res":"N","grp":"polar"},
{"seq":"RelE-MW1230/1-80","col":42,"res":"P","grp":"proline"},
{"seq":"RelE-MW1230/1-80","col":43,"res":"P","grp":"proline"},
{"seq":"RelE-MW1230/1-80","col":44,"res":"I","grp":"hydrophobic"},
{"seq":"RelE-MW1230/1-80","col":45,"res":"-"},
{"seq":"RelE-MW1230/1-80","col":46,"res":"-"},
{"seq":"RelE-MW1230/1-80","col":47,"res":"-"},
{"seq":"RelE-MW1230/1-80","col":48,"res":"-"},
{"seq":"RelE-MW1230/1-80","col":49,"res":"N"},
{"seq":"RelE-MW1230/1-80","col":50,"res":"E"},
{"seq":"RelE-MW1230/1-80","col":51,"res":"E","grp":"acidic"},
{"seq":"RelE-MW1230/1-80","col":52,"res":"M"},
{"seq":"RelE-MW1230/1-80","col":53,"res":"L","grp":"hydrophobic"},
{"seq":"RelE-MW1230/1-80","col":54,"res":"R"},
{"seq":"RelE-MW1230/1-80","col":55,"res":"M"},
{"seq":"RelE-MW1230/1-80","col":56,"res":"M"},
{"seq":"RelE-MW1230/1-80","col":57,"res":"M","grp":"hydrophobic"},
{"seq":"RelE-MW1230/1-80","col":58,"res":"M"},
{"seq":"RelE-MW1230/1-80","col":59,"res":"-"},
{"seq":"RelE-MW1230/1-80","col":60,"res":"-"},
{"seq":"RelE-MW1230/1-80","col":61,"res":"-"},
{"seq":"RelE-MW1230/1-80","col":62,"res":"Q"},
{"seq":"RelE-MW1230/1-80","col":63,"res":"M"},
{"seq":"RelE-MW1230/1-80","col":64,"res":"G","grp":"glycine"},
{"seq":"RelE-MW1230/1-80","col":65,"res":"Q","grp":"polar"},
{"seq":"RelE-MW1230/1-80","col":66,"res":"K","grp":"basic"},
{"seq":"RelE-MW1230/1-80","col":67,"res":"P","grp":"proline"},
{"seq":"RelE-MW1230/1-80","col":68,"res":"S"},
{"seq":"RelE-MW1230/1-80","col":69,"res":"Q"},
{"seq":"RelE-MW1230/1-80","col":70,"res":"K"},
{"seq":"RelE-MW1230/1-80","col":71,"res":"K"},
{"seq":"RelE-MW1230/1-80","col":72,"res":"I","grp":"hydrophobic"},
{"seq":"RelE-MW1230/1-80","col":73,"res":"N"},
{"seq":"RelE-MW1230/1-80","col":74,"res":"Q"},
{"seq":"RelE-MW1230/1-80","col":75,"res":"M","grp":"hydrophobic"},
{"seq":"RelE-MW1230/1-80","col":76,"res":"M","grp":"hydrophobic"},
{"seq":"RelE-MW1230/1-80","col":77,"res":"T","grp":"polar"},
{"seq":"RelE-MW1230/1-80","col":78,"res":"M","grp":"hydrophobic"},
{"seq":"RelE-MW1230/1-80","col":79,"res":"M"},
{"seq":"RelE-MW1230/1-80","col":80,"res":"N"},
{"seq":"RelE-MW1230/1-80","col":81,"res":"K"},
{"seq":"RelE-MW1230/1-80","col":82,"res":"N","grp":"polar"},
{"seq":"RelE-MW1230/1-80","col":83,"res":"M"},
{"seq":"RelE-MW1230/1-80","col":84,"res":"D"},
{"seq":"RelE-MW1230/1-80","col":85,"res":"Q"},
{"seq":"RelE-MW1230/1-80","col":86,"res":"N"},
{"seq":"RelE-MW1230/1-80","col":87,"res":"M"},
{"seq":"RelE-MW1230/1-80","col":88,"res":"K"},
{"seq":"RelE-MW1230/1-80","col":89,"res":"S","grp":"polar"},
{"seq":"RelE-MW1230/1-80","col":90,"res":"A","grp":"hydrophobic"},
{"seq":"RelE-MW1230/1-80","col":91,"res":"K"},
{"seq":"RelE-MW1230/1-80","col":92,"res":"K"},
{"seq":"RelE-MW1230/1-80","col":93,"res":"-"},
{"seq":"RelE-MW1230/1-80","col":94,"res":"-"},
{"seq":"RelE-MW1230/1-80","col":95,"res":"-"},
{"seq":"RelE-MW1230/1-80","col":96,"res":"-"},
{"seq":"RelE-MW1230/1-80","col":97,"res":"-"},
{"seq":"RelE-MW1230/1-80","col":98,"res":"-"},
{"seq":"RelE-MW1230/1-80","col":99,"res":"-"},
{"seq":"RelE-MW1230/1-80","col":100,"res":"-"},
{"seq":"RelE-MW1230/1-80","col":101,"res":"-"},
{"seq":"RelE-MW1230/1-80","col":102,"res":"-"},
{"seq":"RelE-MW1230/1-80","col":103,"res":"-"},
{"seq":"RelE-MW1230/1-80","col":104,"res":"-"},
{"seq":"RelE-MW1230/1-80","col":105,"res":"-"},
{"seq":"RelE-MW1230/1-80","col":106,"res":"-"},
{"seq":"RelE-MW1230/1-80","col":107,"res":"-"},
{"seq":"RelE-MW0324/1-98","col":1,"res":"-"},
{"seq":"RelE-MW0324/1-98","col":2,"res":"M","grp":"hydrophobic"},
{"seq":"RelE-MW0324/1-98","col":3,"res":"A"},
{"seq":"RelE-MW0324/1-98","col":4,"res":"F","grp":"hydrophobic"},
{"seq":"RelE-MW0324/1-98","col":5,"res":"T"},
{"seq":"RelE-MW0324/1-98","col":6,"res":"L","grp":"hydrophobic"},
{"seq":"RelE-MW0324/1-98","col":7,"res":"S","grp":"polar"},
{"seq":"RelE-MW0324/1-98","col":8,"res":"A","grp":"hydrophobic"},
{"seq":"RelE-MW0324/1-98","col":9,"res":"I"},
{"seq":"RelE-MW0324/1-98","col":10,"res":"Q"},
{"seq":"RelE-MW0324/1-98","col":11,"res":"Q"},
{"seq":"RelE-MW0324/1-98","col":12,"res":"A","grp":"hydrophobic"},
{"seq":"RelE-MW0324/1-98","col":13,"res":"H","grp":"aromatic"},
{"seq":"RelE-MW0324/1-98","col":14,"res":"Q"},
{"seq":"RelE-MW0324/1-98","col":15,"res":"Q"},
{"seq":"RelE-MW0324/1-98","col":16,"res":"F","grp":"hydrophobic"},
{"seq":"RelE-MW0324/1-98","col":17,"res":"T"},
{"seq":"RelE-MW0324/1-98","col":18,"res":"K"},
{"seq":"RelE-MW0324/1-98","col":19,"res":"L","grp":"hydrophobic"},
{"seq":"RelE-MW0324/1-98","col":20,"res":"F","grp":"hydrophobic"},
{"seq":"RelE-MW0324/1-98","col":21,"res":"K"},
{"seq":"RelE-MW0324/1-98","col":22,"res":"A"},
{"seq":"RelE-MW0324/1-98","col":23,"res":"F"},
{"seq":"RelE-MW0324/1-98","col":24,"res":"-"},
{"seq":"RelE-MW0324/1-98","col":25,"res":"-"},
{"seq":"RelE-MW0324/1-98","col":26,"res":"K"},
{"seq":"RelE-MW0324/1-98","col":27,"res":"D"},
{"seq":"RelE-MW0324/1-98","col":28,"res":"M"},
{"seq":"RelE-MW0324/1-98","col":29,"res":"G","grp":"glycine"},
{"seq":"RelE-MW0324/1-98","col":30,"res":"M"},
{"seq":"RelE-MW0324/1-98","col":31,"res":"T","grp":"polar"},
{"seq":"RelE-MW0324/1-98","col":32,"res":"Y"},
{"seq":"RelE-MW0324/1-98","col":33,"res":"N"},
{"seq":"RelE-MW0324/1-98","col":34,"res":"I","grp":"hydrophobic"},
{"seq":"RelE-MW0324/1-98","col":35,"res":"V","grp":"hydrophobic"},
{"seq":"RelE-MW0324/1-98","col":36,"res":"N"},
{"seq":"RelE-MW0324/1-98","col":37,"res":"I"},
{"seq":"RelE-MW0324/1-98","col":38,"res":"Q"},
{"seq":"RelE-MW0324/1-98","col":39,"res":"D","grp":"acidic"},
{"seq":"RelE-MW0324/1-98","col":40,"res":"G","grp":"glycine"},
{"seq":"RelE-MW0324/1-98","col":41,"res":"T"},
{"seq":"RelE-MW0324/1-98","col":42,"res":"A"},
{"seq":"RelE-MW0324/1-98","col":43,"res":"T","grp":"polar"},
{"seq":"RelE-MW0324/1-98","col":44,"res":"Y","grp":"aromatic"},
{"seq":"RelE-MW0324/1-98","col":45,"res":"V"},
{"seq":"RelE-MW0324/1-98","col":46,"res":"H"},
{"seq":"RelE-MW0324/1-98","col":47,"res":"Q"},
{"seq":"RelE-MW0324/1-98","col":48,"res":"S"},
{"seq":"RelE-MW0324/1-98","col":49,"res":"E"},
{"seq":"RelE-MW0324/1-98","col":50,"res":"D"},
{"seq":"RelE-MW0324/1-98","col":51,"res":"D","grp":"acidic"},
{"seq":"RelE-MW0324/1-98","col":52,"res":"I"},
{"seq":"RelE-MW0324/1-98","col":53,"res":"V","grp":"hydrophobic"},
{"seq":"RelE-MW0324/1-98","col":54,"res":"T"},
{"seq":"RelE-MW0324/1-98","col":55,"res":"S","grp":"polar"},
{"seq":"RelE-MW0324/1-98","col":56,"res":"S"},
{"seq":"RelE-MW0324/1-98","col":57,"res":"V","grp":"hydrophobic"},
{"seq":"RelE-MW0324/1-98","col":58,"res":"K"},
{"seq":"RelE-MW0324/1-98","col":59,"res":"S"},
{"seq":"RelE-MW0324/1-98","col":60,"res":"T"},
{"seq":"RelE-MW0324/1-98","col":61,"res":"-"},
{"seq":"RelE-MW0324/1-98","col":62,"res":"P","grp":"proline"},
{"seq":"RelE-MW0324/1-98","col":63,"res":"V"},
{"seq":"RelE-MW0324/1-98","col":64,"res":"A"},
{"seq":"RelE-MW0324/1-98","col":65,"res":"Q","grp":"polar"},
{"seq":"RelE-MW0324/1-98","col":66,"res":"K","grp":"basic"},
{"seq":"RelE-MW0324/1-98","col":67,"res":"S"},
{"seq":"RelE-MW0324/1-98","col":68,"res":"N"},
{"seq":"RelE-MW0324/1-98","col":69,"res":"Q"},
{"seq":"RelE-MW0324/1-98","col":70,"res":"S"},
{"seq":"RelE-MW0324/1-98","col":71,"res":"I"},
{"seq":"RelE-MW0324/1-98","col":72,"res":"V","grp":"hydrophobic"},
{"seq":"RelE-MW0324/1-98","col":73,"res":"Q"},
{"seq":"RelE-MW0324/1-98","col":74,"res":"D"},
{"seq":"RelE-MW0324/1-98","col":75,"res":"V","grp":"hydrophobic"},
{"seq":"RelE-MW0324/1-98","col":76,"res":"L","grp":"hydrophobic"},
{"seq":"RelE-MW0324/1-98","col":77,"res":"T","grp":"polar"},
{"seq":"RelE-MW0324/1-98","col":78,"res":"R"},
{"seq":"RelE-MW0324/1-98","col":79,"res":"H"},
{"seq":"RelE-MW0324/1-98","col":80,"res":"Q"},
{"seq":"RelE-MW0324/1-98","col":81,"res":"Q"},
{"seq":"RelE-MW0324/1-98","col":82,"res":"G","grp":"glycine"},
{"seq":"RelE-MW0324/1-98","col":83,"res":"Q"},
{"seq":"RelE-MW0324/1-98","col":84,"res":"T"},
{"seq":"RelE-MW0324/1-98","col":85,"res":"D"},
{"seq":"RelE-MW0324/1-98","col":86,"res":"F"},
{"seq":"RelE-MW0324/1-98","col":87,"res":"E"},
{"seq":"RelE-MW0324/1-98","col":88,"res":"T"},
{"seq":"RelE-MW0324/1-98","col":89,"res":"F"},
{"seq":"RelE-MW0324/1-98","col":90,"res":"C","grp":"hydrophobic"},
{"seq":"RelE-MW0324/1-98","col":91,"res":"D"},
{"seq":"RelE-MW0324/1-98","col":92,"res":"E"},
{"seq":"RelE-MW0324/1-98","col":93,"res":"M","grp":"hydrophobic"},
{"seq":"RelE-MW0324/1-98","col":94,"res":"A","grp":"hydrophobic"},
{"seq":"RelE-MW0324/1-98","col":95,"res":"E","grp":"acidic"},
{"seq":"RelE-MW0324/1-98","col":96,"res":"A"},
{"seq":"RelE-MW0324/1-98","col":97,"res":"G","grp":"glycine"},
{"seq":"RelE-MW0324/1-98","col":98,"res":"I"},
{"seq":"RelE-MW0324/1-98","col":99,"res":"Y"},
{"seq":"RelE-MW0324/1-98","col":100,"res":"K"},
{"seq":"RelE-MW0324/1-98","col":101,"res":"W"},
{"seq":"RelE-MW0324/1-98","col":102,"res":"H"},
{"seq":"RelE-MW0324/1-98","col":103,"res":"-"},
{"seq":"RelE-MW0324/1-98","col":104,"res":"-"},
{"seq":"RelE-MW0324/1-98","col":105,"res":"-"},
{"seq":"RelE-MW0324/1-98","col":106,"res":"-"},
{"seq":"RelE-MW0324/1-98","col":107,"res":"-"}
]
},
"vconcat": [
{
"bounds": "flush",
"spacing": 0,
"resolve": {"scale": {"x": "independent", "y": "independent", "color": "independent"}},
"vconcat": [
{
"width": 3079.5, "height": 56,
"data": {"name": "ruler"},
"mark": {"type": "text", "font": "Liberation Sans Narrow, Roboto Condensed, DejaVu Sans Condensed, Liberation Sans, sans-serif", "fontSize": 40, "baseline": "middle", "dy": 6, "color": "black"},
"encoding": {
"x": {"field": "col", "type": "ordinal", "scale": {"type": "band", "domain": [1,2,3,4,5,6,7,8,9,10,11,12,13,14,15,16,17,18,19,20,21,22,23,24,25,26,27,28,29,30,31,32,33,34,35,36,37,38,39,40,41,42,43,44,45,46,47,48,49,50,51,52,53,54,55,56,57,58,59,60,61,62,63,64,65,66,67,68,69,70,71,72,73,74,75,76,77,78,79,80,81,82,83,84,85,86,87,88,89,90,91,92,93,94,95,96,97,98,99,100,101,102,103,104,105,106,107], "paddingInner": 0, "paddingOuter": 0}, "axis": null},
"text": {"field": "col", "type": "quantitative"}
}
},
{
"width": 3079.5, "height": 17,
"data": {"name": "ticks"},
"mark": {"type": "rule", "color": "#333333", "strokeWidth": 2},
"encoding": {
"x": {"field": "col", "type": "ordinal", "scale": {"type": "band", "domain": [1,2,3,4,5,6,7,8,9,10,11,12,13,14,15,16,17,18,19,20,21,22,23,24,25,26,27,28,29,30,31,32,33,34,35,36,37,38,39,40,41,42,43,44,45,46,47,48,49,50,51,52,53,54,55,56,57,58,59,60,61,62,63,64,65,66,67,68,69,70,71,72,73,74,75,76,77,78,79,80,81,82,83,84,85,86,87,88,89,90,91,92,93,94,95,96,97,98,99,100,101,102,103,104,105,106,107], "paddingInner": 0, "paddingOuter": 0}, "axis": null}
}
},
{
"width": 3079.5, "height": 440,
"data": {"name": "alignment"},
"encoding": {
"x": {"field": "col", "type": "ordinal", "scale": {"type": "band", "domain": [1,2,3,4,5,6,7,8,9,10,11,12,13,14,15,16,17,18,19,20,21,22,23,24,25,26,27,28,29,30,31,32,33,34,35,36,37,38,39,40,41,42,43,44,45,46,47,48,49,50,51,52,53,54,55,56,57,58,59,60,61,62,63,64,65,66,67,68,69,70,71,72,73,74,75,76,77,78,79,80,81,82,83,84,85,86,87,88,89,90,91,92,93,94,95,96,97,98,99,100,101,102,103,104,105,106,107], "paddingInner": 0, "paddingOuter": 0}, "axis": null},
"y": {"field": "seq", "type": "nominal", "sort": ["RelE-MW2329/1-88","RelE-MW1394/1-103","RelE-MW2380/1-88","RelE-MW1230/1-80","RelE-MW0324/1-98"], "scale": {"type": "band", "paddingInner": 0, "paddingOuter": 0}, "axis": {"title": null, "domain": false, "ticks": false, "tickSize": 0, "labelAlign": "left", "labelPadding": 239.6, "labelFont": "Liberation Sans Narrow, Roboto Condensed, DejaVu Sans Condensed, Liberation Sans, sans-serif", "labelFontStyle": "italic", "labelFontSize": 31, "labelColor": "black", "labelLimit": 0}}
},
"layer": [
{
"transform": [{"filter": "datum.grp"}],
"mark": {"type": "rect"},
"encoding": {
"color": {"field": "grp", "type": "nominal", "legend": null, "scale": {"domain": ["hydrophobic","polar","acidic","glycine","proline","aromatic","basic"], "range": ["#67b1e6","#12c812","#e048d2","#f7964b","#c8c800","#00b0b0","#f82a0a"]}}
}
},
{
"mark": {"type": "text", "font": "Liberation Sans Narrow, Roboto Condensed, DejaVu Sans Condensed, Liberation Sans, sans-serif", "fontSize": 42, "baseline": "middle", "color": "black"},
"encoding": {"text": {"field": "res"}}
}
]
},
{
"width": 3079.5, "height": 144,
"data": {"name": "columns"},
"mark": {"type": "bar"},
"encoding": {
"x": {"field": "col", "type": "ordinal", "scale": {"type": "band", "domain": [1,2,3,4,5,6,7,8,9,10,11,12,13,14,15,16,17,18,19,20,21,22,23,24,25,26,27,28,29,30,31,32,33,34,35,36,37,38,39,40,41,42,43,44,45,46,47,48,49,50,51,52,53,54,55,56,57,58,59,60,61,62,63,64,65,66,67,68,69,70,71,72,73,74,75,76,77,78,79,80,81,82,83,84,85,86,87,88,89,90,91,92,93,94,95,96,97,98,99,100,101,102,103,104,105,106,107], "paddingInner": 0, "paddingOuter": 0}, "axis": {"title": null, "labels": false, "ticks": false, "domain": true, "domainColor": "#b4b4b4", "domainWidth": 4}},
"y": {"field": "score", "type": "quantitative", "scale": {"domain": [0, 11.8]}, "axis": {"title": null, "values": [0], "labelExpr": "'Conservation'", "domain": false, "ticks": false, "tickSize": 0, "grid": false, "labelFlush": false, "labelBaseline": "alphabetic", "labelAlign": "right", "labelPadding": 7.6, "labelFont": "Liberation Sans Narrow, Roboto Condensed, DejaVu Sans Condensed, Liberation Sans, sans-serif", "labelFontSize": 40, "labelColor": "black", "labelLimit": 0}},
"color": {"field": "conservation", "type": "nominal", "legend": null, "scale": {"domain": ["-","0","1","2","3","4","5","6","7","8","9"], "range": ["#6b0000","#6b0000","#7a1600","#892c00","#974300","#a65900","#b56f00","#c48500","#d29c00","#e1b200","#f0c800"]}}
}
},
{
"width": 3079.5, "height": 83,
"data": {"name": "columns"},
"mark": {"type": "text", "font": "Liberation Sans Narrow, Roboto Condensed, DejaVu Sans Condensed, Liberation Sans, sans-serif", "fontSize": 40, "baseline": "middle", "dy": 7},
"encoding": {
"x": {"field": "col", "type": "ordinal", "scale": {"type": "band", "domain": [1,2,3,4,5,6,7,8,9,10,11,12,13,14,15,16,17,18,19,20,21,22,23,24,25,26,27,28,29,30,31,32,33,34,35,36,37,38,39,40,41,42,43,44,45,46,47,48,49,50,51,52,53,54,55,56,57,58,59,60,61,62,63,64,65,66,67,68,69,70,71,72,73,74,75,76,77,78,79,80,81,82,83,84,85,86,87,88,89,90,91,92,93,94,95,96,97,98,99,100,101,102,103,104,105,106,107], "paddingInner": 0, "paddingOuter": 0}, "axis": null},
"text": {"field": "conservation"},
"color": {"field": "conservation", "type": "nominal", "legend": null, "scale": {"domain": ["-","0","1","2","3","4","5","6","7","8","9"], "range": ["#6b0000","#6b0000","#7a1600","#892c00","#974300","#a65900","#b56f00","#c48500","#d29c00","#e1b200","#f0c800"]}}
}
},
{
"width": 3079.5, "height": 142,
"data": {"name": "columns"},
"mark": {"type": "bar"},
"encoding": {
"x": {"field": "col", "type": "ordinal", "scale": {"type": "band", "domain": [1,2,3,4,5,6,7,8,9,10,11,12,13,14,15,16,17,18,19,20,21,22,23,24,25,26,27,28,29,30,31,32,33,34,35,36,37,38,39,40,41,42,43,44,45,46,47,48,49,50,51,52,53,54,55,56,57,58,59,60,61,62,63,64,65,66,67,68,69,70,71,72,73,74,75,76,77,78,79,80,81,82,83,84,85,86,87,88,89,90,91,92,93,94,95,96,97,98,99,100,101,102,103,104,105,106,107], "paddingInner": 0, "paddingOuter": 0}, "axis": {"title": null, "labels": false, "ticks": false, "domain": true, "domainColor": "#b4b4b4", "domainWidth": 4}},
"y": {"field": "quality", "type": "quantitative", "scale": {"domain": [0, 267]}, "axis": {"title": null, "values": [0], "labelExpr": "'Quality'", "domain": false, "ticks": false, "tickSize": 0, "grid": false, "labelFlush": false, "labelBaseline": "alphabetic", "labelAlign": "right", "labelPadding": 7.6, "labelFont": "Liberation Sans Narrow, Roboto Condensed, DejaVu Sans Condensed, Liberation Sans, sans-serif", "labelFontSize": 40, "labelColor": "black", "labelLimit": 0}},
"color": {"field": "quality", "type": "quantitative", "legend": null, "scale": {"domain": [0, 256], "range": ["#7a2000", "#ffe600"]}}
}
},
{
"width": 3079.5, "height": 218,
"data": {"name": "columns"},
"mark": {"type": "bar", "color": "black"},
"encoding": {
"x": {"field": "col", "type": "ordinal", "scale": {"type": "band", "domain": [1,2,3,4,5,6,7,8,9,10,11,12,13,14,15,16,17,18,19,20,21,22,23,24,25,26,27,28,29,30,31,32,33,34,35,36,37,38,39,40,41,42,43,44,45,46,47,48,49,50,51,52,53,54,55,56,57,58,59,60,61,62,63,64,65,66,67,68,69,70,71,72,73,74,75,76,77,78,79,80,81,82,83,84,85,86,87,88,89,90,91,92,93,94,95,96,97,98,99,100,101,102,103,104,105,106,107], "paddingInner": 0, "paddingOuter": 0}, "axis": {"title": null, "labels": false, "ticks": false, "domain": true, "domainColor": "#b4b4b4", "domainWidth": 4}},
"y": {"field": "consensus", "type": "quantitative", "scale": {"domain": [0, 8.2]}, "axis": {"title": null, "values": [0], "labelExpr": "'Consensus'", "domain": false, "ticks": false, "tickSize": 0, "grid": false, "labelFlush": false, "labelBaseline": "alphabetic", "labelAlign": "right", "labelPadding": 7.6, "labelFont": "Liberation Sans Narrow, Roboto Condensed, DejaVu Sans Condensed, Liberation Sans, sans-serif", "labelFontSize": 40, "labelColor": "black", "labelLimit": 0}}
}
},
{
"width": 3079.5, "height": 80,
"data": {"name": "columns"},
"mark": {"type": "text", "font": "Liberation Sans Narrow, Roboto Condensed, DejaVu Sans Condensed, Liberation Sans, sans-serif", "fontSize": 40, "baseline": "middle", "dy": 5, "color": "black"},
"encoding": {
"x": {"field": "col", "type": "ordinal", "scale": {"type": "band", "domain": [1,2,3,4,5,6,7,8,9,10,11,12,13,14,15,16,17,18,19,20,21,22,23,24,25,26,27,28,29,30,31,32,33,34,35,36,37,38,39,40,41,42,43,44,45,46,47,48,49,50,51,52,53,54,55,56,57,58,59,60,61,62,63,64,65,66,67,68,69,70,71,72,73,74,75,76,77,78,79,80,81,82,83,84,85,86,87,88,89,90,91,92,93,94,95,96,97,98,99,100,101,102,103,104,105,106,107], "paddingInner": 0, "paddingOuter": 0}, "axis": null},
"text": {"field": "letter"}
}
},
{
"width": 3079.5, "height": 147,
"data": {"name": "columns"},
"mark": {"type": "bar"},
"encoding": {
"x": {"field": "col", "type": "ordinal", "scale": {"type": "band", "domain": [1,2,3,4,5,6,7,8,9,10,11,12,13,14,15,16,17,18,19,20,21,22,23,24,25,26,27,28,29,30,31,32,33,34,35,36,37,38,39,40,41,42,43,44,45,46,47,48,49,50,51,52,53,54,55,56,57,58,59,60,61,62,63,64,65,66,67,68,69,70,71,72,73,74,75,76,77,78,79,80,81,82,83,84,85,86,87,88,89,90,91,92,93,94,95,96,97,98,99,100,101,102,103,104,105,106,107], "paddingInner": 0, "paddingOuter": 0}, "axis": {"title": null, "labels": false, "ticks": false, "domain": true, "domainColor": "#b4b4b4", "domainWidth": 4}},
"y": {"field": "occupancy", "type": "quantitative", "scale": {"domain": [0, 5.57]}, "axis": {"title": null, "values": [0], "labelExpr": "'Occupancy'", "domain": false, "ticks": false, "tickSize": 0, "grid": false, "labelFlush": false, "labelBaseline": "alphabetic", "labelAlign": "right", "labelPadding": 7.6, "labelFont": "Liberation Sans Narrow, Roboto Condensed, DejaVu Sans Condensed, Liberation Sans, sans-serif", "labelFontSize": 40, "labelColor": "black", "labelLimit": 0}},
"color": {"field": "occupancy", "type": "quantitative", "legend": null, "scale": {"domain": [1, 5], "range": ["#5e5e5e", "#d9d9d9"]}}
}
}
]
},
{
"width": 3079.5, "height": 17,
"data": {"values": [{"separator": "rule"}]},
"mark": {"type": "rect", "color": "black"},
"encoding": {
"x": {"datum": 0, "type": "quantitative", "scale": {"domain": [0, 1], "range": [-332.6, 3082.4]}, "axis": null},
"x2": {"datum": 1}
}
}
]
}
